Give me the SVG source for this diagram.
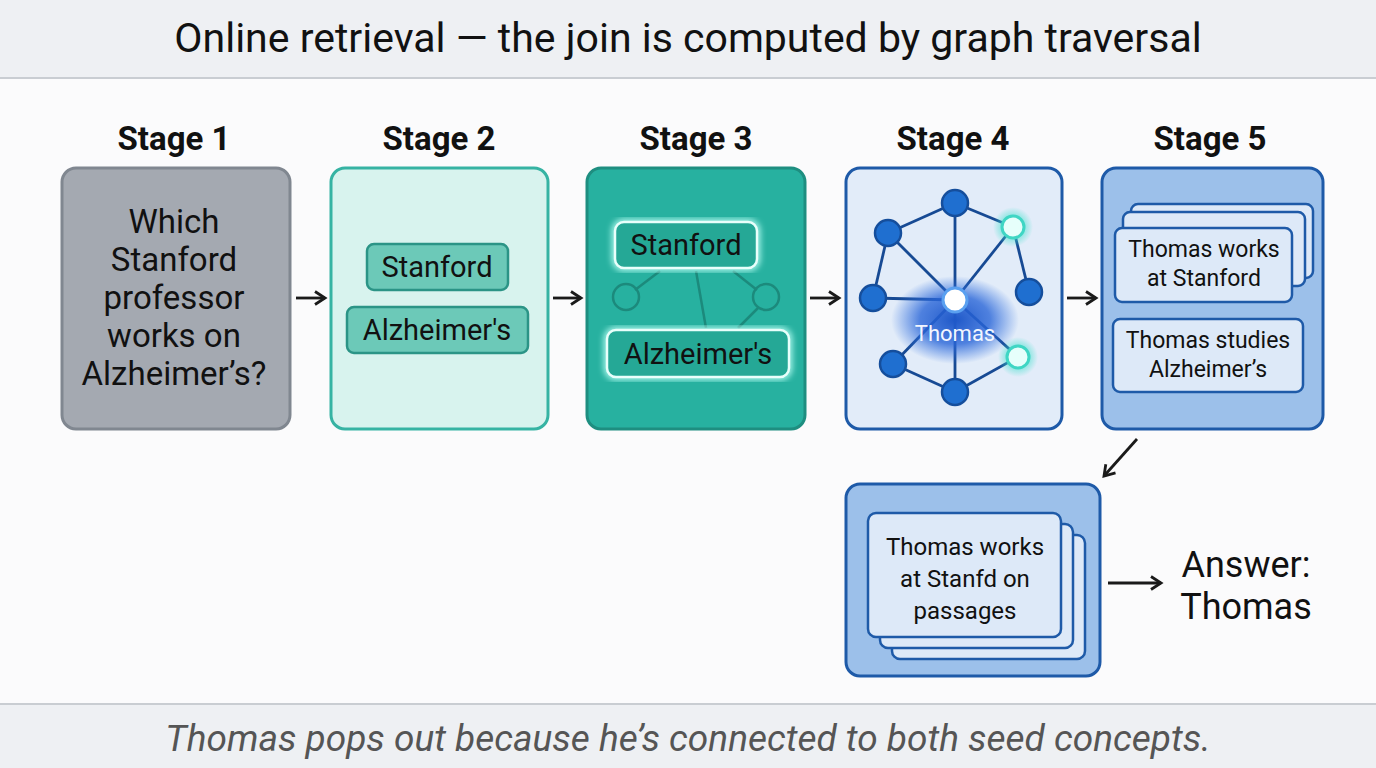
<svg xmlns="http://www.w3.org/2000/svg" width="1376" height="768" viewBox="0 0 1376 768">
<defs>
<style>
text{font-family:Roboto,"Liberation Sans",sans-serif;fill:#111}
.st{font-size:33px;font-weight:bold;text-anchor:middle}
.c{text-anchor:middle}
.conn line,.conn path{stroke:#1a1a1a;stroke-width:2.8;fill:none}
.e{stroke:#174a94;stroke-width:2.8}
.bn{fill:#1f6fd0;stroke:#154e9c;stroke-width:2.5}
.gn{fill:#e6fffb;stroke:#3fd6c4;stroke-width:3}
.card{fill:#dde9f8;stroke:#1e5aa8;stroke-width:2.5}
</style>
<marker id="ah" viewBox="0 0 16 16" refX="13" refY="8" markerWidth="16" markerHeight="16" markerUnits="userSpaceOnUse" orient="auto"><path d="M3,1.5 L13,8 L3,14.5" fill="none" stroke="#1a1a1a" stroke-width="2.8"/></marker>
<radialGradient id="glow"><stop offset="0" stop-color="#1f58c8" stop-opacity="1"/><stop offset="0.55" stop-color="#2a66d8" stop-opacity="0.8"/><stop offset="1" stop-color="#2f6fe0" stop-opacity="0"/></radialGradient>
<radialGradient id="tg"><stop offset="0.4" stop-color="#3fe0cc" stop-opacity="0.7"/><stop offset="1" stop-color="#3fe0cc" stop-opacity="0"/></radialGradient>
<filter id="blur"><feGaussianBlur stdDeviation="3"/></filter>
</defs>
<rect width="1376" height="768" fill="#fbfbfc"/>
<rect width="1376" height="78" fill="#eef0f3"/>
<line x1="0" y1="78" x2="1376" y2="78" stroke="#c9cdd2" stroke-width="2"/>
<text x="688" y="52" class="c" font-size="41">Online retrieval — the join is computed by graph traversal</text>
<rect y="704" width="1376" height="64" fill="#eef0f3"/>
<line x1="0" y1="704" x2="1376" y2="704" stroke="#c9cdd2" stroke-width="2"/>
<text x="688" y="751" class="c" font-size="37" font-style="italic" style="fill:#555">Thomas pops out because he’s connected to both seed concepts.</text>

<text x="174" y="150" class="st">Stage 1</text>
<text x="439" y="150" class="st">Stage 2</text>
<text x="696" y="150" class="st">Stage 3</text>
<text x="953" y="150" class="st">Stage 4</text>
<text x="1210" y="150" class="st">Stage 5</text>

<g id="stage1">
<rect x="62" y="168" width="228" height="261" rx="14" fill="#a4a9b1" stroke="#808790" stroke-width="3"/>
<text class="c" font-size="33"><tspan x="174" y="233">Which</tspan><tspan x="174" y="271">Stanford</tspan><tspan x="174" y="309">professor</tspan><tspan x="174" y="347">works on</tspan><tspan x="174" y="385">Alzheimer’s?</tspan></text>
</g>

<g id="stage2">
<rect x="331" y="168" width="217" height="261" rx="14" fill="#d8f3ee" stroke="#36b3a3" stroke-width="3"/>
<rect x="367" y="244" width="141" height="46" rx="7" fill="#6cc9b8" stroke="#2b9486" stroke-width="2.5"/>
<text x="437" y="277" class="c" font-size="29">Stanford</text>
<rect x="347" y="307" width="181" height="46" rx="7" fill="#6cc9b8" stroke="#2b9486" stroke-width="2.5"/>
<text x="437" y="340" class="c" font-size="29">Alzheimer's</text>
</g>

<g id="stage3">
<rect x="587" y="168" width="218" height="261" rx="14" fill="#27b1a0" stroke="#1e8e80" stroke-width="3"/>
<g stroke="#1c8a7c" stroke-width="2.5" fill="none">
<line x1="660" y1="271" x2="635" y2="290"/><line x1="696" y1="271" x2="706" y2="328"/><line x1="733" y1="271" x2="757" y2="290"/><line x1="758" y1="308" x2="738" y2="328"/>
<circle cx="626" cy="297" r="13"/><circle cx="766" cy="297" r="13"/>
</g>
<rect x="615" y="222" width="142" height="46" rx="9" fill="none" stroke="#b8fff4" stroke-width="6" filter="url(#blur)"/>
<rect x="615" y="222" width="142" height="46" rx="9" fill="#25a896" stroke="#e8fffb" stroke-width="2.5"/>
<text x="686" y="255" class="c" font-size="29">Stanford</text>
<rect x="607" y="330" width="182" height="47" rx="9" fill="none" stroke="#b8fff4" stroke-width="6" filter="url(#blur)"/>
<rect x="607" y="330" width="182" height="47" rx="9" fill="#25a896" stroke="#e8fffb" stroke-width="2.5"/>
<text x="698" y="364" class="c" font-size="29">Alzheimer's</text>
</g>

<g id="stage4">
<rect x="846" y="168" width="216" height="261" rx="14" fill="#e2ecf9" stroke="#1e5aa8" stroke-width="3"/>
<g class="e">
<line x1="955" y1="203" x2="888" y2="233"/><line x1="955" y1="203" x2="1013" y2="227"/><line x1="955" y1="203" x2="955" y2="300"/>
<line x1="888" y1="233" x2="873" y2="298"/><line x1="888" y1="233" x2="955" y2="300"/><line x1="1013" y1="227" x2="955" y2="300"/>
<line x1="1013" y1="227" x2="1029" y2="292"/><line x1="873" y1="298" x2="955" y2="300"/><line x1="955" y1="300" x2="955" y2="392"/>
<line x1="893" y1="364" x2="955" y2="300"/><line x1="893" y1="364" x2="955" y2="392"/><line x1="955" y1="392" x2="1018" y2="357"/><line x1="955" y1="300" x2="1018" y2="357"/>
</g>
<ellipse cx="955" cy="320" rx="64" ry="44" fill="url(#glow)"/>
<g class="bn">
<circle cx="955" cy="203" r="13"/><circle cx="888" cy="233" r="13"/><circle cx="873" cy="298" r="13"/><circle cx="1029" cy="292" r="13"/><circle cx="893" cy="364" r="13"/><circle cx="955" cy="392" r="13"/>
</g>
<circle cx="1013" cy="227" r="20" fill="url(#tg)"/><circle cx="1018" cy="357" r="20" fill="url(#tg)"/>
<circle cx="1013" cy="227" r="11" class="gn"/><circle cx="1018" cy="357" r="11" class="gn"/>
<circle cx="955" cy="300" r="12" fill="#fff" stroke="#5aa0f0" stroke-width="3"/>
<text x="955" y="341" class="c" font-size="22" style="fill:#f2f6ff">Thomas</text>
</g>

<g id="stage5">
<rect x="1102" y="168" width="221" height="261" rx="14" fill="#9cc0ea" stroke="#1e5aa8" stroke-width="3"/>
<rect x="1131" y="204" width="182" height="74" rx="7" class="card"/>
<rect x="1123" y="212" width="182" height="74" rx="7" class="card"/>
<rect x="1115" y="228" width="177" height="74" rx="7" class="card"/>
<text class="c" font-size="23"><tspan x="1204" y="257">Thomas works</tspan><tspan x="1204" y="286">at Stanford</tspan></text>
<rect x="1113" y="319" width="190" height="73" rx="7" class="card"/>
<text class="c" font-size="23"><tspan x="1208" y="348">Thomas studies</tspan><tspan x="1208" y="377">Alzheimer’s</tspan></text>
</g>

<g id="passages">
<rect x="846" y="484" width="254" height="192" rx="14" fill="#9cc0ea" stroke="#1e5aa8" stroke-width="3"/>
<rect x="892" y="535" width="193" height="124" rx="8" class="card"/>
<rect x="880" y="524" width="193" height="124" rx="8" class="card"/>
<rect x="868" y="513" width="193" height="124" rx="8" class="card"/>
<text class="c" font-size="24"><tspan x="965" y="555">Thomas works</tspan><tspan x="965" y="587">at Stanfd on</tspan><tspan x="965" y="619">passages</tspan></text>
</g>

<g id="answer">
<text x="1246" y="577" class="c" font-size="36">Answer:</text>
<text x="1246" y="619" class="c" font-size="36">Thomas</text>
</g>

<g class="conn">
<line x1="296" y1="298" x2="325" y2="298" marker-end="url(#ah)"/>
<line x1="553" y1="298" x2="581" y2="298" marker-end="url(#ah)"/>
<line x1="810" y1="298" x2="839" y2="298" marker-end="url(#ah)"/>
<line x1="1067" y1="298" x2="1096" y2="298" marker-end="url(#ah)"/>
<line x1="1137" y1="439" x2="1104" y2="476" marker-end="url(#ah)"/>
<line x1="1108" y1="583" x2="1161" y2="583" marker-end="url(#ah)"/>
</g>
</svg>
